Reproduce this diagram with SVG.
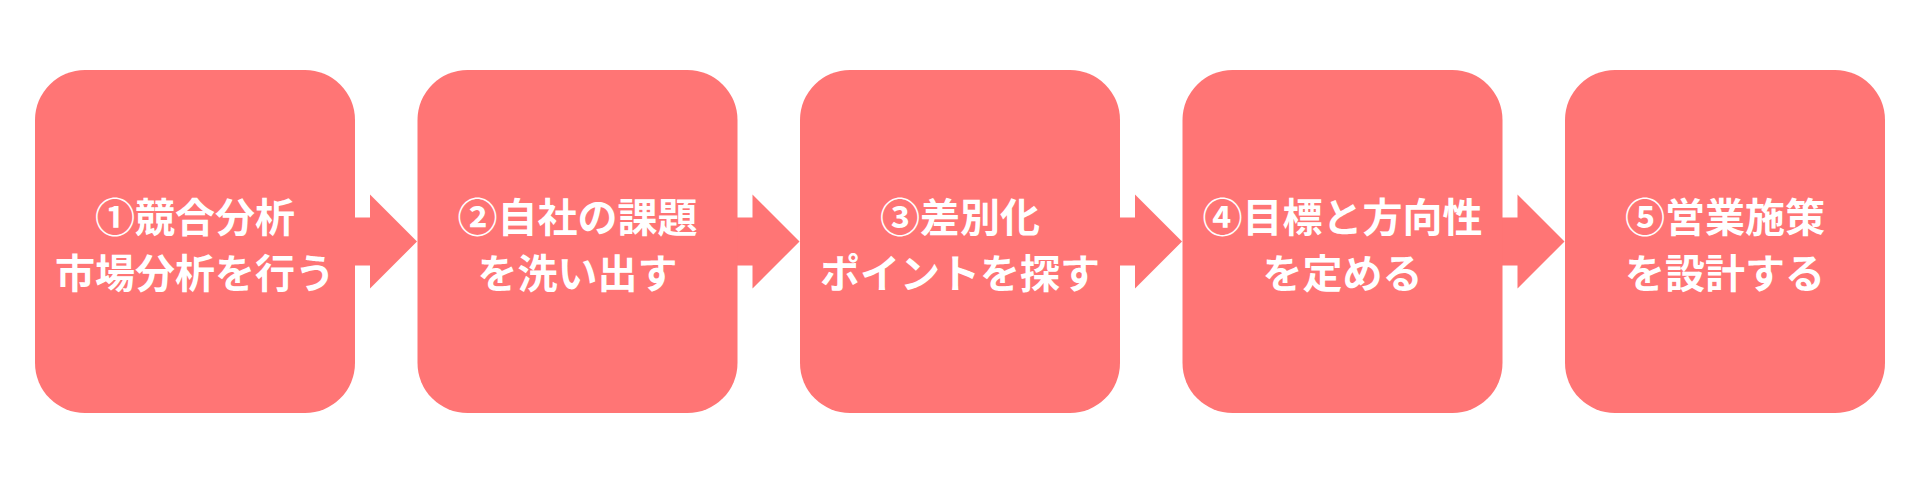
<svg xmlns="http://www.w3.org/2000/svg" width="1920" height="497" viewBox="0 0 1920 497">
<style>
.box{fill:#FF7575}
.arr{fill:#FF7575}
.t{fill:#FFFFFF;font-family:"Noto Sans CJK JP","Noto Sans CJK SC",sans-serif;font-weight:700;font-size:40px;text-anchor:middle}
</style>
<defs>
<path id="arrow" d="M-6,-24 H15 V-47 L62,0 L15,47 V24 H-6 Z"/>
</defs>
<rect width="1920" height="497" fill="#FFFFFF"/>
<g id="connectors">
<use href="#arrow" class="arr" x="355" y="241.5"/>
<use href="#arrow" class="arr" x="737.5" y="241.5"/>
<use href="#arrow" class="arr" x="1120" y="241.5"/>
<use href="#arrow" class="arr" x="1502.5" y="241.5"/>
</g>
<g id="node1">
<rect class="box" x="35" y="70" width="320" height="343" rx="50" ry="50"/>
<text class="t" x="195" y="232">①競合分析</text>
<text class="t" x="195" y="288">市場分析を行う</text>
</g>
<g id="node2">
<rect class="box" x="417.5" y="70" width="320" height="343" rx="50" ry="50"/>
<text class="t" x="577.5" y="232">②自社の課題</text>
<text class="t" x="577.5" y="288">を洗い出す</text>
</g>
<g id="node3">
<rect class="box" x="800" y="70" width="320" height="343" rx="50" ry="50"/>
<text class="t" x="960" y="232">③差別化</text>
<text class="t" x="960" y="288">ポイントを探す</text>
</g>
<g id="node4">
<rect class="box" x="1182.5" y="70" width="320" height="343" rx="50" ry="50"/>
<text class="t" x="1342.5" y="232">④目標と方向性</text>
<text class="t" x="1342.5" y="288">を定める</text>
</g>
<g id="node5">
<rect class="box" x="1565" y="70" width="320" height="343" rx="50" ry="50"/>
<text class="t" x="1725" y="232">⑤営業施策</text>
<text class="t" x="1725" y="288">を設計する</text>
</g>
</svg>
